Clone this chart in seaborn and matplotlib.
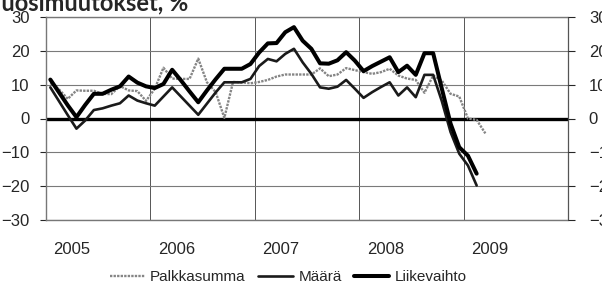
import numpy as np
import pandas as pd
import matplotlib
matplotlib.use("Agg")
import matplotlib.pyplot as plt
import seaborn as sns

# Vuosimuutokset kuukausittain, tammikuu 2005 alkaen
years = ["2005", "2006", "2007", "2008", "2009"]

palkkasumma = [10.5, 8.6, 5.8, 8.3, 8.2, 8.2, 7.3, 7.2, 9.6, 8.3,
               8.1, 5.2, 8.8, 15.0, 11.8, 11.7, 11.7, 17.7, 10.7, 7.8,
               0.2, 10.8, 10.7, 10.4, 10.8, 11.4, 12.4, 13.0, 13.0, 13.0,
               13.0, 14.8, 12.5, 13.0, 14.9, 14.3, 13.7, 13.2, 13.7, 14.7,
               12.7, 11.8, 11.4, 7.6, 12.7, 11.2, 7.3, 6.5, 0.0, -0.4,
               -4.4]

maara = [9.2, 5.1, 1.0, -3.0, -0.6, 2.5, 3.0, 3.8, 4.5, 6.8,
         5.3, 4.5, 3.8, 6.5, 9.2, 6.5, 3.8, 1.1, 4.4, 7.7,
         10.7, 10.7, 10.7, 11.7, 15.5, 17.6, 16.9, 19.1, 20.6, 16.6,
         13.2, 9.2, 8.8, 9.4, 11.4, 8.8, 6.1, 7.8, 9.3, 10.7,
         6.8, 9.2, 6.3, 12.9, 12.9, 5.1, -4.0, -10.4, -13.9, -19.8]

liikevaihto = [11.5, 7.7, 3.9, 0.4, 4.0, 7.3, 7.3, 8.5, 9.5, 12.4,
               10.6, 9.5, 9.0, 10.2, 14.4, 11.3, 8.0, 4.8, 8.3, 11.6,
               14.7, 14.7, 14.7, 16.1, 19.5, 22.2, 22.3, 25.5, 27.0, 23.0,
               20.6, 16.3, 16.2, 17.2, 19.6, 17.1, 14.0, 15.5, 16.8, 18.1,
               13.7, 15.6, 12.9, 19.3, 19.3, 8.8, -1.5, -8.5, -11.0, -16.3]

df = pd.concat([
    pd.DataFrame({"kk": np.arange(len(palkkasumma)), "arvo": palkkasumma, "sarja": "Palkkasumma"}),
    pd.DataFrame({"kk": np.arange(len(maara)), "arvo": maara, "sarja": "Määrä"}),
    pd.DataFrame({"kk": np.arange(len(liikevaihto)), "arvo": liikevaihto, "sarja": "Liikevaihto"}),
])

sns.set_theme(style="white")
plt.rcParams["font.family"] = ["Liberation Sans", "DejaVu Sans"]

fig = plt.figure(figsize=(6.02, 2.81), dpi=100)
ax = fig.add_axes([46 / 602, 1 - 220 / 281, 522 / 602, 203 / 281])

# viivat
tyylit = {"Palkkasumma": dict(color="#858585", lw=1.7, ls=(0, (1.0, 0.5))),
          "Määrä": dict(color="#1a1a1a", lw=1.9),
          "Liikevaihto": dict(color="#000000", lw=2.9)}
for nimi, st in tyylit.items():
    sns.lineplot(data=df[df.sarja == nimi], x="kk", y="arvo", ax=ax,
                 label=nimi, **st)

ax.set_xlim(-0.5, 59.5)
ax.set_ylim(-30, 30)
ax.set_yticks(np.arange(-30, 31, 10))
ax.set_xticks([2.5 + 12 * i for i in range(len(years))])
ax.set_xticklabels(years)
ax.set_xticks([11.5, 23.5, 35.5, 47.5], minor=True)
ax.tick_params(axis="x", which="both", length=0, pad=16, labelsize=12)
ax.tick_params(axis="y", length=4, width=0.8, direction="out", pad=8,
               labelsize=12, left=True)
ax.grid(axis="y", which="major", color="#7a7a7a", lw=0.8)
ax.grid(axis="x", which="minor", color="#555555", lw=0.7)
ax.axhline(0, color="black", lw=2.4, zorder=1.5)
ax.set_xlabel("")
ax.set_ylabel("")
for s in ["left", "top", "bottom"]:
    ax.spines[s].set_color("#777777")
    ax.spines[s].set_linestyle((0, (1, 1)))
    ax.spines[s].set_linewidth(1)
ax.spines["right"].set_color("#555555")
ax.spines["right"].set_linewidth(0.9)

# oikea akseli
ax2 = ax.twinx()
ax2.set_ylim(-30, 30)
ax2.set_yticks(np.arange(-30, 31, 10))
ax2.tick_params(axis="y", length=5, width=0.8, direction="out", pad=10,
                labelsize=12, right=True)
for s in ax2.spines.values():
    s.set_visible(False)
ax2.grid(False)

ax.get_legend().remove()
h, l = ax.get_legend_handles_labels()
fig.legend(h, l, loc="center", bbox_to_anchor=(288 / 602, 1 - 277 / 281),
           ncol=3, frameon=False, fontsize=11, handlelength=2.3,
           handletextpad=0.35, columnspacing=0.8)

fig.text(188 / 602, (281 - 10) / 281, "Vuosimuutokset, %", ha="right",
         va="baseline", fontsize=17, fontweight="bold", family=["Lato", "DejaVu Sans"])

plt.savefig("out.png", dpi=100)
